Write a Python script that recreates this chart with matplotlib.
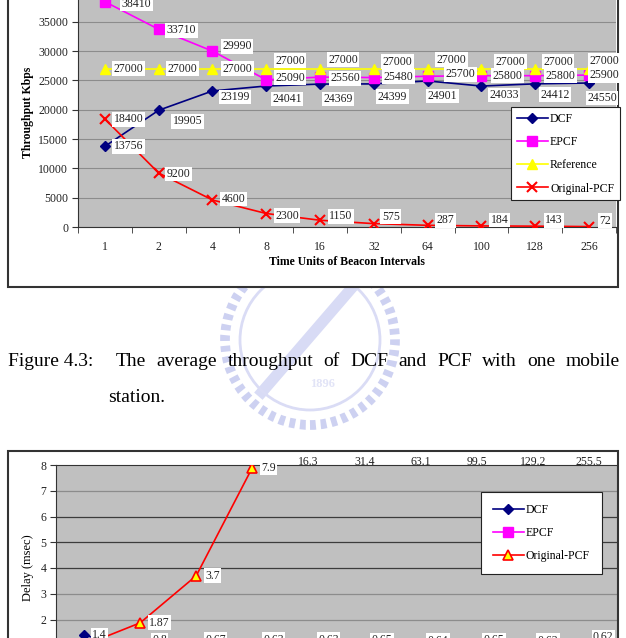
import matplotlib
matplotlib.use('Agg')
import matplotlib.pyplot as plt
from matplotlib.patches import Rectangle, Ellipse

plt.rcParams['font.family'] = ['Liberation Serif', 'DejaVu Serif']

# x categories (time units of beacon intervals)
intervals = ['1', '2', '4', '8', '16', '32', '64', '100', '128', '256']

# throughput (Kbps)
dcf_thr = [13756, 19905, 23199, 24041, 24369, 24399, 24901, 24033, 24412, 24550]
epcf_thr = [38410, 33710, 29990, 25090, 25560, 25480, 25700, 25800, 25800, 25900]
ref_thr = [27000, 27000, 27000, 27000, 27000, 27000, 27000, 27000, 27000, 27000]
opcf_thr = [18400, 9200, 4600, 2300, 1150, 575, 287, 184, 143, 72]

# delay (msec)
dcf_delay = [1.4, 0.8, 0.67, 0.63, 0.63, 0.65, 0.64, 0.65, 0.63, 0.62]
epcf_delay = [0.4, 0.35, 0.33, 0.32, 0.32, 0.32, 0.32, 0.32, 0.32, 0.32]
opcf_delay = [1.0, 1.87, 3.7, 7.9, 16.3, 31.4, 63.1, 99.5, 129.2, 255.5]

# label offsets in pixels (dx to left edge, dy)
dcf_off = [(9, 0), (14, -11), (8, -6), (6, -13), (3, -15), (4, -13), (0, -15), (8, -9), (5, -11), (-2, -15)]
epcf_off = [(17, -2), (8, -1), (10, 5), (9, 2), (10, -1), (10, 1), (18, 2), (11, 0), (10, 0), (0, 0)]
ref_off = [(9, 0), (9, 0), (10, 0), (9, 8), (8, 9), (9, 7), (9, 9), (14, 7), (8, 7), (0, 8)]
opcf_off = [(9, 0), (8, -1), (9, 1), (9, -2), (9, 4), (8, 7), (9, 5), (9, 6), (10, 6), (10, 6)]
dcf_delay_off = [(8, 0), (12, 10), (9, 14), (11, 15), (10, 15), (7, 14), (7, 14), (7, 14), (5, 14), (4, 18)]

W, H = 626, 638
fig = plt.figure(figsize=(W / 100, H / 100), dpi=100)
fig.patch.set_facecolor('white')

txt = '#222222'
fs = 8.5
box = dict(boxstyle='square,pad=0.12', fc='white', ec='none')


def px(x, y):
    return x / W, (H - y) / H


# faint watermark behind everything
wm_c = px(310, 340)
fig.patches.append(Ellipse(wm_c, 170 / W, 170 / H, transform=fig.transFigure, fill=False,
                           ec='#cdd1f1', lw=7, ls=(0, (0.6, 0.5)), zorder=-3))
fig.patches.append(Ellipse(wm_c, 140 / W, 140 / H, transform=fig.transFigure, fill=False,
                           ec='#dadcf5', lw=2, zorder=-3))
fig.lines.append(plt.Line2D([px(262, 0)[0], px(350, 0)[0]], [px(0, 392)[1], px(0, 290)[1]],
                            transform=fig.transFigure, color='#d8dbf5', lw=8, zorder=-3))
fig.text(*px(322, 384), '1896', fontsize=9, color='#e2e4f7', ha='center', va='center',
         fontweight='bold', zorder=-3)

# chart borders
x0, y0 = px(8, 287)
fig.patches.append(Rectangle((x0, y0), 610 / W, 1.2, transform=fig.transFigure,
                             fc='white', ec='#333333', lw=1.5, zorder=-1))
x0, y0 = px(8, 700)
fig.patches.append(Rectangle((x0, y0), 610 / W, (700 - 451) / H, transform=fig.transFigure,
                             fc='white', ec='#333333', lw=1.5, zorder=-1))

# ---------------- chart 1: throughput ----------------
l, b = px(78, 227)
ax1 = fig.add_axes([l, b, 538 / W, 234.6 / H])
ax1.set_facecolor('#c0c0c0')
xs = range(len(intervals))
ax1.plot(xs, dcf_thr, color='#000080', marker='D', ms=5.5, lw=1.2, label='DCF', zorder=3)
ax1.plot(xs, epcf_thr, color='#ff00ff', marker='s', ms=7, lw=1.2, label='EPCF', zorder=3)
ax1.plot(xs, ref_thr, color='#ffff00', marker='^', ms=7.5, lw=1.2, label='Reference', zorder=3)
ax1.plot(xs, opcf_thr, color='#ff0000', marker='x', ms=7, mew=1.5, lw=1.2,
         label='Original-PCF', zorder=3)

for vals, offs in [(dcf_thr, dcf_off), (epcf_thr, epcf_off), (ref_thr, ref_off), (opcf_thr, opcf_off)]:
    for i, (v, o) in enumerate(zip(vals, offs)):
        ax1.annotate(str(v), (i, v), xytext=o, textcoords='offset pixels', ha='left',
                     va='center', fontsize=fs, color=txt, bbox=box, zorder=4,
                     annotation_clip=False)

ax1.set_xlim(-0.5, 9.5)
ax1.set_ylim(0, 40000)
ax1.set_yticks(range(0, 40001, 5000))
ax1.set_xticks(list(xs))
ax1.set_xticklabels(intervals)
ax1.set_xticks([i + 0.5 for i in range(-1, 10)], minor=True)
ax1.tick_params(axis='x', which='major', length=0, pad=10, labelsize=fs, labelcolor=txt)
ax1.tick_params(axis='x', which='minor', length=4, direction='out', color='#333333')
ax1.tick_params(axis='y', length=4, pad=3, labelsize=fs, labelcolor=txt, color='#333333')
ax1.grid(axis='y', color='#8c8c8c', lw=0.8)
ax1.set_axisbelow(True)
for s in ['top', 'right']:
    ax1.spines[s].set_visible(False)
for s in ['left', 'bottom']:
    ax1.spines[s].set_color('#333333')
ax1.set_xlabel('Time Units of Beacon Intervals', fontsize=fs, fontweight='bold', labelpad=2)
fig.text(*px(28, 112), 'Throughput Kbps', rotation=90, ha='center', va='center',
         fontsize=fs, fontweight='bold')
leg1 = ax1.legend(loc='upper left', bbox_to_anchor=(0.805, 0.5115), borderaxespad=0,
                  fontsize=fs, fancybox=False, framealpha=1, edgecolor='#222222',
                  handlelength=2.6, handletextpad=0.2, labelspacing=0.95, borderpad=0.5)
leg1.get_frame().set_linewidth(0.8)

# ---------------- chart 2: delay ----------------
l, b = px(56, 671)
ax2 = fig.add_axes([l, b, 561 / W, 206 / H])
ax2.set_facecolor('#c0c0c0')
ax2.plot(xs, dcf_delay, color='#000080', marker='D', ms=5.5, lw=1.2, label='DCF', zorder=3)
ax2.plot(xs, epcf_delay, color='#ff00ff', marker='s', ms=7, lw=1.2, label='EPCF', zorder=3)
ax2.plot(xs, opcf_delay, color='#ff0000', marker='^', ms=7, mfc='#ffff00', mec='#ff0000',
         mew=1.2, lw=1.2, label='Original-PCF', zorder=3)

ymax = 8
for i, v in enumerate(opcf_delay):
    if v <= ymax:
        ax2.annotate(str(v), (i, v), xytext=(9, 0), textcoords='offset pixels', ha='left',
                     va='center', fontsize=fs, color=txt, bbox=box, zorder=4)
    else:
        ax2.annotate(str(v), (i, ymax), xytext=(0, 3), textcoords='offset pixels', ha='center',
                     va='center', fontsize=fs, color=txt, zorder=4, annotation_clip=False)
for i, (v, o) in enumerate(zip(dcf_delay, dcf_delay_off)):
    ax2.annotate(str(v), (i, v), xytext=o, textcoords='offset pixels', ha='left',
                 va='center', fontsize=fs, color=txt, bbox=box, zorder=4)

ax2.set_xlim(-0.5, 9.5)
ax2.set_ylim(0, ymax)
ax2.set_yticks(range(0, 9))
ax2.set_xticks([])
ax2.tick_params(axis='y', length=4, pad=3, labelsize=fs, labelcolor=txt, color='#333333')
grid_cols = ['#8c8c8c', '#8c8c8c', '#8c8c8c', '#3c3c3c', '#3c3c3c', '#3c3c3c', '#8c8c8c']
for yv, c in zip(range(1, 8), grid_cols):
    ax2.axhline(yv, color=c, lw=0.9, zorder=1)
for s in ax2.spines.values():
    s.set_color('#333333')
fig.text(*px(28, 568), 'Delay (msec)', rotation=90, ha='center', va='center', fontsize=9)
leg2 = ax2.legend(loc='upper left', bbox_to_anchor=(0.7576, 0.869), borderaxespad=0,
                  fontsize=fs, fancybox=False, framealpha=1, edgecolor='#222222',
                  handlelength=2.6, handletextpad=0.2, labelspacing=0.95, borderpad=1.0)
leg2.get_frame().set_linewidth(0.8)

# ---------------- caption ----------------
cap_fs = 14
fig.text(*px(8, 366), 'Figure 4.3:', fontsize=cap_fs, va='baseline', ha='left')
words = 'The average throughput of DCF and PCF with one mobile'.split()
texts = [fig.text(0, px(0, 366)[1], w, fontsize=cap_fs, va='baseline', ha='left') for w in words]
r = fig.canvas.get_renderer()
widths = [t.get_window_extent(r).width / W for t in texts]
xa, xb = 116 / W, 620 / W
gap = (xb - xa - sum(widths)) / (len(words) - 1)
x = xa
for t, w in zip(texts, widths):
    t.set_x(x)
    x += w + gap
fig.text(*px(108, 402), 'station.', fontsize=cap_fs, va='baseline', ha='left')

fig.savefig('out.png', dpi=100)
